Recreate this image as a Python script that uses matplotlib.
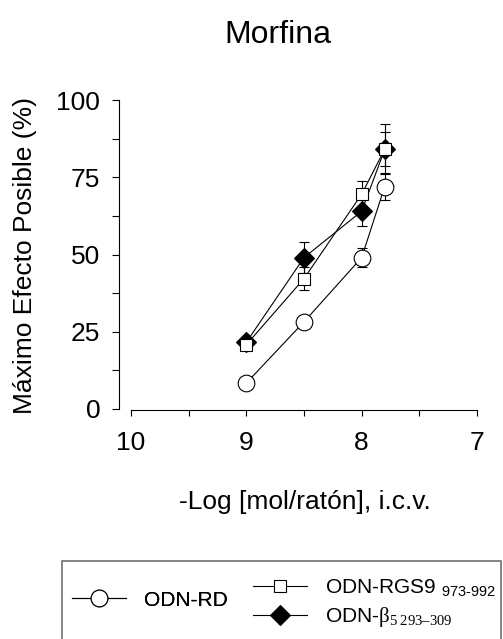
import matplotlib
matplotlib.use('Agg')
import matplotlib.pyplot as plt
from matplotlib.ticker import MultipleLocator
from matplotlib.patches import Rectangle

plt.rcParams['font.family'] = ['Liberation Sans', 'DejaVu Sans']
plt.rcParams['mathtext.fontset'] = 'custom'
plt.rcParams['mathtext.rm'] = 'Liberation Serif'
plt.rcParams['mathtext.sf'] = 'Liberation Sans'
plt.rcParams['mathtext.it'] = 'Liberation Serif:italic'

# dosis (-log mol/raton)
dosis = [9, 8.5, 8, 7.8]

rd = [8.4, 28.2, 49, 72]
rd_err = [1, 1.5, 3.2, 4.5]

rgs9 = [20.8, 42.2, 69.5, 84.1]
rgs9_err = [1, 3.6, 4.2, 8]

beta = [21.6, 49, 64, 84]
beta_err = [1, 4.9, 4.9, 5.5]

lab_rd = 'ODN-RD'
lab_rgs9 = 'ODN-RGS9 $_{\\mathsf{973\u2010992}}$'
lab_beta = 'ODN-$\\mathrm{\\beta}_{\\mathrm{5\\ 293\u2013309}}$'

W, H = 503, 639
fig = plt.figure(figsize=(W/100, H/100), dpi=100)
ax = fig.add_axes([131/W, 1-409/H, (477-131)/W, 309/H])

lw = 0.8
# barras de error debajo
for y, e in [(rd, rd_err), (beta, beta_err), (rgs9, rgs9_err)]:
    ax.errorbar(dosis, y, yerr=e, fmt='none', ecolor='black', elinewidth=lw,
                capsize=3.6, capthick=lw, zorder=1)

l1, = ax.plot(dosis, rd, '-o', color='black', lw=lw, ms=12, mfc='white', mec='black', mew=lw, zorder=3)
l3, = ax.plot(dosis, beta, '-D', color='black', lw=lw, ms=10, mfc='black', mec='black', mew=lw, zorder=4)
l2, = ax.plot(dosis, rgs9, '-s', color='black', lw=lw, ms=9, mfc='white', mec='black', mew=lw, zorder=5)

ax.set_xlim(10, 7)
ax.set_ylim(0, 100)
ax.xaxis.set_major_locator(MultipleLocator(1))
ax.xaxis.set_minor_locator(MultipleLocator(0.5))
ax.yaxis.set_major_locator(MultipleLocator(25))
ax.yaxis.set_minor_locator(MultipleLocator(12.5))

for s in ['top', 'right']:
    ax.spines[s].set_visible(False)
ax.spines['left'].set_position(('outward', 8.6))
ax.spines['bottom'].set_position(('outward', 0.8))
ax.spines['left'].set_linewidth(lw)
ax.spines['bottom'].set_linewidth(lw)

ax.tick_params(axis='y', which='both', direction='out', length=5, width=lw, labelsize=19, pad=8.6)
ax.tick_params(axis='x', which='both', direction='out', length=4.5, width=lw, labelsize=19, pad=10.5)
ax.patch.set_alpha(0)

fig.text(278/W, 1-43/H, 'Morfina', ha='center', va='baseline', fontsize=23)
fig.text(305/W, 1-509/H, '-Log [mol/rat\u00f3n], i.c.v.', ha='center', va='baseline', fontsize=19)
fig.text(25/W, 1-255/H, 'M\u00e1ximo Efecto Posible (%)', ha='center', va='center',
         rotation=90, fontsize=19)

# cuadro de la leyenda
fig.patches.append(Rectangle((62/W, -0.05), (501-62)/W, 0.05 + 1-561/H, transform=fig.transFigure,
                             fill=False, edgecolor='#707070', lw=1.2))

leg1 = fig.legend([l1], [lab_rd], loc='center left', bbox_to_anchor=(72/W, 1-600/H),
                  frameon=False, fontsize=15, handlelength=2.6, handletextpad=0.87, borderpad=0,
                  borderaxespad=0)
leg2 = fig.legend([l2, l3], [lab_rgs9, lab_beta], loc='center left', bbox_to_anchor=(253/W, 1-603/H),
                  frameon=False, fontsize=15, handlelength=2.6, handletextpad=0.87, borderpad=0,
                  borderaxespad=0, labelspacing=0.35)
fig.add_artist(leg1)

fig.savefig('out.png', dpi=100)
